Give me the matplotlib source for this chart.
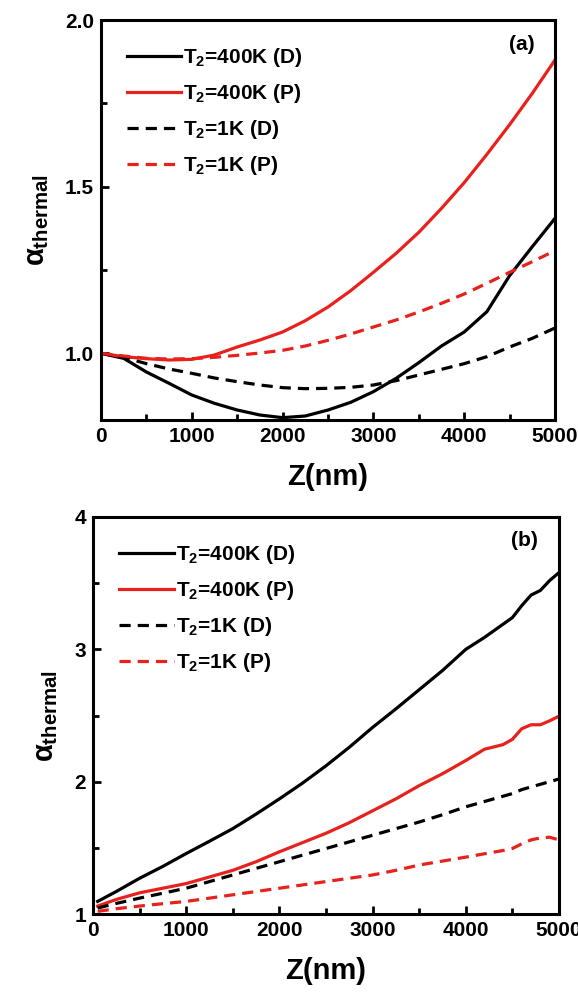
import numpy as np
import matplotlib
matplotlib.use("Agg")
import matplotlib.pyplot as plt

plt.rcParams['font.family'] = ['Liberation Sans', 'DejaVu Sans']
plt.rcParams['font.weight'] = 'bold'
plt.rcParams['axes.labelweight'] = 'bold'
plt.rcParams['mathtext.fontset'] = 'custom'
plt.rcParams['mathtext.rm'] = 'Liberation Sans:bold'
plt.rcParams['mathtext.it'] = 'Liberation Sans:bold'
plt.rcParams['mathtext.bf'] = 'Liberation Sans:bold'

labels = ['T$_2$=400K (D)', 'T$_2$=400K (P)', 'T$_2$=1K (D)', 'T$_2$=1K (P)']

# panel (a)
z_a = [0, 250, 500, 750, 1000, 1250, 1500, 1750, 2000, 2250, 2500, 2750,
       3000, 3250, 3500, 3750, 4000, 4250, 4500, 4750, 5000]
a_400_D = [1.0, 0.985, 0.944, 0.91, 0.875, 0.85, 0.830, 0.815, 0.807, 0.812, 0.830, 0.853,
           0.885, 0.925, 0.972, 1.022, 1.064, 1.125, 1.233, 1.32, 1.405]
a_400_P = [1.0, 0.99, 0.984, 0.98, 0.982, 0.995, 1.019, 1.04, 1.064, 1.098, 1.139, 1.188,
           1.243, 1.30, 1.363, 1.435, 1.512, 1.597, 1.686, 1.78, 1.88]
a_1_D = [1.0, 0.988, 0.969, 0.953, 0.94, 0.926, 0.915, 0.905, 0.897, 0.894, 0.895, 0.898,
         0.905, 0.918, 0.935, 0.952, 0.969, 0.99, 1.019, 1.045, 1.076]
a_1_P = [1.0, 0.992, 0.985, 0.983, 0.984, 0.988, 0.994, 1.001, 1.009, 1.022, 1.039, 1.058,
         1.079, 1.10, 1.124, 1.15, 1.178, 1.21, 1.243, 1.275, 1.308]

# panel (b)
z_b = [50, 250, 500, 750, 1000, 1250, 1500, 1750, 2000, 2250, 2500, 2750, 3000,
       3250, 3500, 3750, 4000, 4200, 4400, 4500, 4600, 4700, 4800, 4900, 5000]
b_400_D = [1.095, 1.17, 1.27, 1.36, 1.457, 1.55, 1.645, 1.755, 1.87, 1.99, 2.12, 2.26, 2.41,
           2.55, 2.695, 2.84, 3.0, 3.09, 3.19, 3.24, 3.33, 3.41, 3.445, 3.52, 3.58]
b_400_P = [1.06, 1.11, 1.16, 1.195, 1.23, 1.28, 1.33, 1.395, 1.47, 1.54, 1.61, 1.69, 1.78,
           1.87, 1.97, 2.06, 2.16, 2.245, 2.28, 2.32, 2.40, 2.43, 2.43, 2.46, 2.495]
b_1_D = [1.045, 1.08, 1.12, 1.157, 1.195, 1.245, 1.295, 1.345, 1.395, 1.445, 1.495, 1.545, 1.595,
         1.645, 1.695, 1.75, 1.81, 1.85, 1.89, 1.91, 1.94, 1.96, 1.98, 2.0, 2.02]
b_1_P = [1.02, 1.04, 1.06, 1.078, 1.095, 1.12, 1.145, 1.17, 1.195, 1.22, 1.245, 1.27, 1.295,
         1.33, 1.37, 1.40, 1.43, 1.455, 1.48, 1.495, 1.53, 1.56, 1.575, 1.58, 1.56]

W, H = 578, 993
fig = plt.figure(figsize=(W / 100, H / 100), dpi=100)
ax_a = fig.add_axes([101 / W, 1 - 420 / H, 454 / W, 400 / H])
ax_b = fig.add_axes([93 / W, 1 - 914 / H, 466 / W, 397 / H])

styles = [('black', '-'), ('#e8211c', '-'), ('black', '--'), ('#e8211c', '--')]


def draw(ax, z, series, ylim, yticks, yminor, fmt, tag):
    for ys, (c, ls), lab in zip(series, styles, labels):
        ax.plot(z, ys, color=c, ls=ls, lw=2.3, label=lab,
                dashes=(3.5, 2.2) if ls == '--' else (None, None))
    ax.set_xlim(0, 5000)
    ax.set_ylim(*ylim)
    ax.set_xticks([0, 1000, 2000, 3000, 4000, 5000])
    ax.set_xticks(np.arange(500, 5000, 1000), minor=True)
    ax.set_yticks(yticks)
    ax.set_yticklabels([fmt % t for t in yticks])
    ax.set_yticks(yminor, minor=True)
    ax.tick_params(which='both', direction='in', width=2, labelsize=15, pad=5)
    ax.tick_params(which='major', length=6)
    ax.tick_params(which='minor', length=4)
    for s in ax.spines.values():
        s.set_linewidth(2.2)
    ax.set_xlabel('Z(nm)', fontsize=21, labelpad=12)
    ax.set_ylabel(r'$\alpha_{thermal}$', fontsize=21, labelpad=10)
    ax.text(0.955, 0.94, tag, transform=ax.transAxes, ha='right', va='center',
            fontsize=15)
    ax.legend(loc='upper left', bbox_to_anchor=(0.03, 0.965), frameon=False,
              fontsize=15, handlelength=2.6, handletextpad=0.1,
              labelspacing=0.62, borderaxespad=0.2)


draw(ax_a, z_a, [a_400_D, a_400_P, a_1_D, a_1_P], (0.8, 2.0),
     [1.0, 1.5, 2.0], [1.25, 1.75], '%.1f', '(a)')
draw(ax_b, z_b, [b_400_D, b_400_P, b_1_D, b_1_P], (1, 4),
     [1, 2, 3, 4], [1.5, 2.5, 3.5], '%d', '(b)')

fig.savefig('out.png', dpi=100)
